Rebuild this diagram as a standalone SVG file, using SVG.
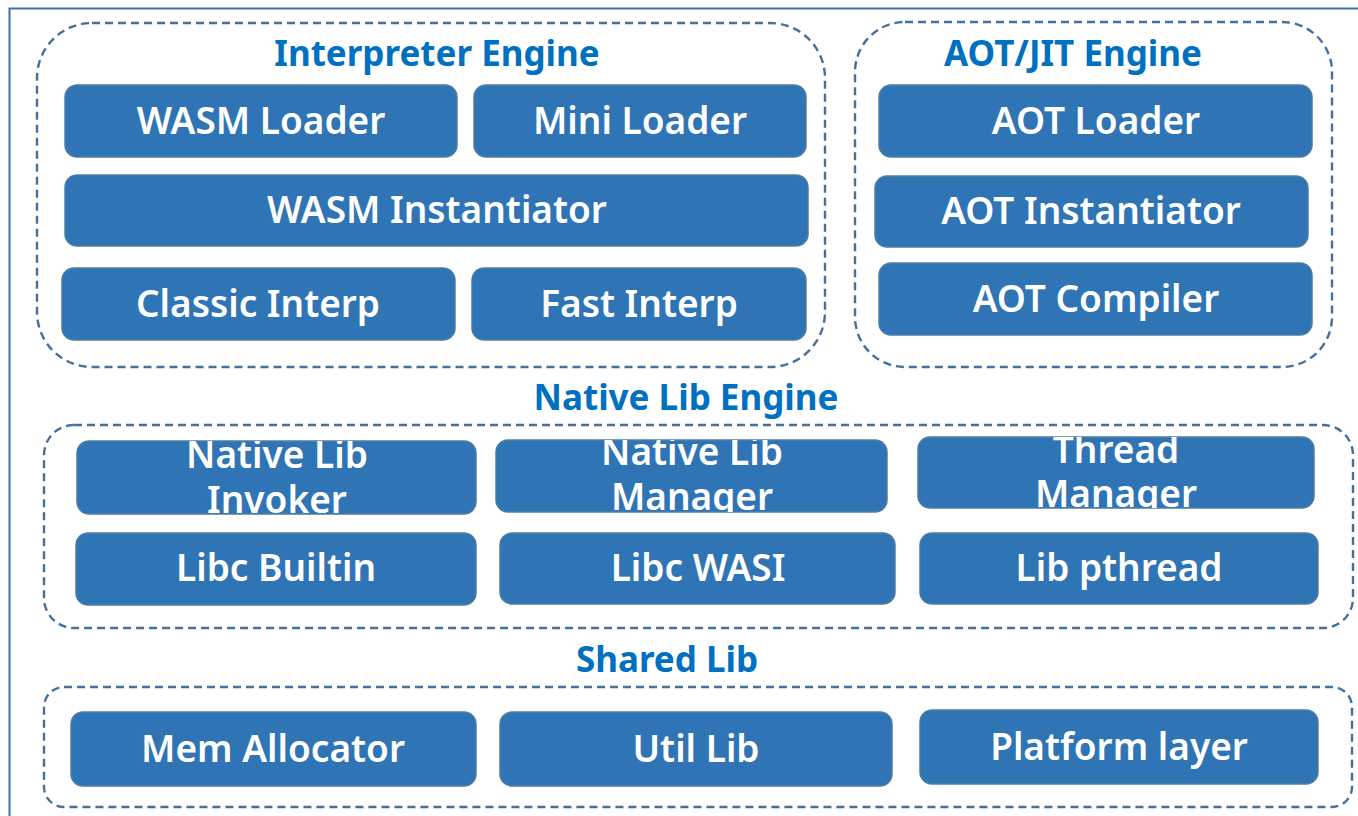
<svg xmlns="http://www.w3.org/2000/svg" width="1358" height="816" viewBox="0 0 1358 816">
<style>
.frame{fill:none;stroke:#41719C;stroke-width:2}
.grp{fill:none;stroke:#41719C;stroke-width:2.4;stroke-dasharray:8 5}
.box{fill:#2F75B5;stroke:#4F7CA3;stroke-width:1.5}
.t{font-family:"Noto Sans","Open Sans",sans-serif;font-weight:600;font-size:37px;fill:#FFFFFF;text-anchor:middle}
.h{font-family:"Noto Sans","Open Sans",sans-serif;font-weight:700;font-size:35px;fill:#0070C0;text-anchor:middle}
</style>
<defs>
<clipPath id="cInv"><rect x="77" y="441" width="399" height="73" rx="12"/></clipPath>
<clipPath id="cMgr"><rect x="496" y="440" width="391" height="72" rx="12"/></clipPath>
<clipPath id="cThr"><rect x="918" y="437" width="396" height="71" rx="12"/></clipPath>
</defs>
<rect width="1358" height="816" fill="#FFFFFF"/>
<rect class="frame" x="9.5" y="8.5" width="1400" height="900"/>

<g id="interpreter-engine">
<rect class="grp" x="37" y="23" width="788" height="344" rx="55"/>
<text class="h" x="437" y="66">Interpreter Engine</text>
</g>
<g id="wasm-loader"><rect class="box" x="65" y="85" width="392" height="72" rx="12"/><text class="t" x="261" y="134">WASM Loader</text></g>
<g id="mini-loader"><rect class="box" x="474" y="85" width="332" height="72" rx="12"/><text class="t" x="640" y="134">Mini Loader</text></g>
<g id="wasm-instantiator"><rect class="box" x="65" y="175" width="743" height="71" rx="12"/><text class="t" x="437" y="223">WASM Instantiator</text></g>
<g id="classic-interp"><rect class="box" x="62" y="268" width="393" height="72" rx="12"/><text class="t" x="258" y="317">Classic Interp</text></g>
<g id="fast-interp"><rect class="box" x="472" y="268" width="334" height="72" rx="12"/><text class="t" x="639" y="317">Fast Interp</text></g>

<g id="aot-jit-engine">
<rect class="grp" x="855" y="22" width="477" height="345" rx="50"/>
<text class="h" x="1073" y="66">AOT/JIT Engine</text>
</g>
<g id="aot-loader"><rect class="box" x="879" y="85" width="433" height="72" rx="12"/><text class="t" x="1096" y="134">AOT Loader</text></g>
<g id="aot-instantiator"><rect class="box" x="875" y="176" width="433" height="71" rx="12"/><text class="t" x="1091" y="224">AOT Instantiator</text></g>
<g id="aot-compiler"><rect class="box" x="879" y="263" width="433" height="72" rx="12"/><text class="t" x="1096" y="312">AOT Compiler</text></g>

<g id="native-lib-engine">
<rect class="grp" x="44" y="425" width="1309" height="203" rx="30"/>
<text class="h" x="686" y="410">Native Lib Engine</text>
</g>
<g id="native-lib-invoker"><rect class="box" x="77" y="441" width="399" height="73" rx="12"/><g clip-path="url(#cInv)"><text class="t"><tspan x="277" y="468">Native Lib</tspan><tspan x="277" y="513">Invoker</tspan></text></g></g>
<g id="native-lib-manager"><rect class="box" x="496" y="440" width="391" height="72" rx="12"/><g clip-path="url(#cMgr)"><text class="t"><tspan x="692" y="465">Native Lib</tspan><tspan x="692" y="510">Manager</tspan></text></g></g>
<g id="thread-manager"><rect class="box" x="918" y="437" width="396" height="71" rx="12"/><g clip-path="url(#cThr)"><text class="t"><tspan x="1116" y="463">Thread</tspan><tspan x="1116" y="507">Manager</tspan></text></g></g>
<g id="libc-builtin"><rect class="box" x="76" y="533" width="400" height="72" rx="12"/><text class="t" x="276" y="581">Libc Builtin</text></g>
<g id="libc-wasi"><rect class="box" x="500" y="533" width="395" height="71" rx="12"/><text class="t" x="698" y="581">Libc WASI</text></g>
<g id="lib-pthread"><rect class="box" x="920" y="533" width="398" height="71" rx="12"/><text class="t" x="1119" y="581">Lib pthread</text></g>

<g id="shared-lib">
<rect class="grp" x="44" y="687" width="1308" height="120" rx="20"/>
<text class="h" x="667" y="672">Shared Lib</text>
</g>
<g id="mem-allocator"><rect class="box" x="71" y="712" width="405" height="74" rx="12"/><text class="t" x="273" y="762">Mem Allocator</text></g>
<g id="util-lib"><rect class="box" x="500" y="712" width="392" height="74" rx="12"/><text class="t" x="696" y="762">Util Lib</text></g>
<g id="platform-layer"><rect class="box" x="920" y="710" width="398" height="74" rx="12"/><text class="t" x="1119" y="760">Platform layer</text></g>

<g id="connectors"></g>
</svg>
